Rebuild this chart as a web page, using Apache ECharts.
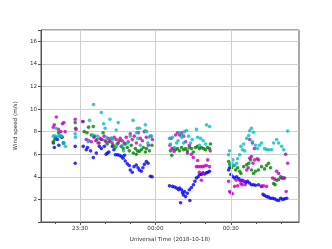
<!DOCTYPE html>
<html><head><meta charset="utf-8">
<script src="https://cdn.jsdelivr.net/npm/echarts@6/dist/echarts.min.js"></script>
<style>html,body{margin:0;padding:0;background:#fff}#c{width:332px;height:249px}</style>
</head><body><div id="c"></div>
<script>
// x = minutes relative to 2018-10-18 00:00 UT, y = wind speed (m/s)
const majorTicks = [-30, 0, 30];
const majorLabels = ['23:30', '00:00', '00:30'];
const minorTicks = [-40, -20, -10, 10, 20, 40, 50];
const yTicks = [2, 4, 6, 8, 10, 12, 14, 16];

const blue = [
 [-40.6,7.0],[-40.2,6.6],[-39.8,7.5],[-39.0,7.3],[-38.4,6.8],[-37.8,7.6],[-37.2,7.5],[-36.6,7.0],
 [-31.9,6.7],[-31.9,5.2],
 [-28.7,6.7],[-27.5,6.4],[-27.0,6.6],[-25.8,6.3],[-24.7,5.7],[-23.5,6.1],[-22.3,6.7],[-21.5,6.5],
 [-20.3,6.7],[-19.6,6.0],[-19.1,6.1],[-18.5,6.2],[-17.1,6.7],[-16.5,6.4],[-15.9,5.95],[-15.1,5.95],
 [-14.3,5.9],[-13.5,5.8],[-12.9,5.65],[-12.3,5.9],[-12.0,5.4],[-11.2,5.15],[-10.4,5.0],[-10.0,4.6],
 [-9.2,4.4],[-8.5,4.9],[-7.6,5.05],[-6.9,4.8],[-6.4,4.6],[-5.6,4.5],[-5.0,4.8],[-4.4,5.1],
 [-3.6,5.35],[-2.9,5.2],[-2.0,4.05],[-1.3,4.0],
 [5.6,3.2],[6.8,3.15],[7.6,3.1],[8.4,3.0],[9.2,2.85],[9.6,3.0],[10.0,1.7],[10.4,2.85],[10.8,2.6],
 [11.1,2.4],[11.6,2.7],[12.0,2.25],[12.7,2.55],[13.5,2.85],[13.7,1.9],[14.3,3.06],[15.1,3.3],
 [15.7,3.6],[16.3,3.9],[17.0,4.0],[17.6,4.2],[18.3,4.2],[18.9,4.35],[19.5,4.25],[20.3,4.35],
 [20.9,4.4],[21.5,4.5],
 [29.1,4.6],[29.5,4.8],[30.0,4.2],[30.8,4.0],[31.5,3.9],[32.3,4.0],[33.1,3.85],[33.8,3.7],
 [34.5,3.7],[35.3,3.6],[36.0,3.5],[36.6,3.6],[37.4,3.45],[38.2,3.3],[39.0,3.3],[39.8,3.25],
 [41.0,3.3],[42.2,3.15],[42.8,2.45],[43.4,2.35],[44.2,2.25],[45.0,2.2],[45.8,2.1],[46.6,2.1],
 [47.4,2.05],[48.2,1.95],[49.0,1.9],[49.8,2.1],[50.6,2.0],[51.4,2.05],[52.2,2.1]
];
const green = [
 [-40.6,7.1],[-40.0,7.3],[-38.5,7.9],[-37.2,7.5],[-36.5,7.0],
 [-31.9,8.8],[-31.7,8.3],
 [-28.9,8.9],[-28.3,8.0],[-27.2,7.9],[-26.6,8.4],[-25.5,7.7],[-24.7,8.45],[-24.2,7.6],[-23.3,7.3],
 [-22.4,7.0],[-21.6,7.3],[-20.8,7.9],[-20.0,7.2],[-19.2,6.9],[-18.4,7.1],[-17.6,7.4],[-16.8,6.8],
 [-16.0,6.6],[-15.2,6.9],[-14.4,7.2],[-13.6,6.7],[-12.8,6.5],[-12.0,6.9],[-11.2,6.6],[-10.4,6.3],
 [-9.6,6.8],[-8.8,6.1],[-8.0,6.5],[-7.6,6.0],[-7.2,6.3],[-6.4,6.25],[-5.6,6.4],[-4.8,6.6],
 [-4.0,6.2],[-3.6,6.5],[-2.4,6.3],[-1.4,6.8],
 [6.0,6.3],[6.5,5.9],[7.2,6.5],[8.0,6.4],[8.8,6.5],[9.6,6.3],[10.4,6.6],[11.2,6.4],[12.0,6.5],
 [12.7,6.3],[13.5,6.6],[14.3,6.5],[15.1,6.2],[15.9,6.6],[16.7,6.7],[17.5,6.5],[18.3,6.6],
 [19.1,6.5],[19.9,6.4],[20.7,6.6],[21.5,6.5],[21.9,6.9],
 [29.1,5.36],[29.6,5.1],[30.3,4.8],[31.2,5.0],[31.9,4.6],[32.7,4.8],[33.5,4.5],[34.0,4.3],
 [35.1,4.9],[36.3,5.07],[37.1,5.2],[37.9,5.5],[38.2,4.6],[39.0,4.3],[39.8,4.5],[41.0,4.6],
 [42.2,4.9],[43.4,4.7],[44.2,5.0],[45.0,5.2],[45.8,4.8],[47.0,3.4],[47.6,3.3],[48.2,3.7],
 [49.0,3.75],[49.8,4.0],[50.6,3.9],[51.4,3.9]
];
const magenta = [
 [-40.6,8.4],[-40.2,8.6],[-39.4,9.3],[-38.6,8.2],[-37.6,8.0],[-37.0,8.7],[-36.4,8.8],[-35.9,8.0],
 [-31.9,9.1],[-31.6,8.2],
 [-28.8,8.9],[-27.5,7.3],[-26.5,7.2],[-25.5,7.1],[-24.5,7.5],[-23.7,7.2],[-22.8,7.0],[-22.0,7.4],
 [-21.2,7.3],[-20.4,7.6],[-19.6,7.1],[-18.8,7.4],[-18.0,7.2],[-17.2,7.0],[-16.4,7.5],[-15.6,7.3],
 [-14.8,7.0],[-14.0,7.4],[-13.2,7.2],[-12.4,7.0],[-11.6,7.5],[-10.8,7.1],[-10.0,7.8],[-9.2,7.3],
 [-8.4,7.6],[-7.6,7.0],[-6.8,7.9],[-6.0,7.4],[-5.2,7.2],[-4.4,8.0],[-3.6,7.5],[-2.8,6.8],
 [-2.0,7.6],[-1.2,7.3],
 [5.8,6.8],[6.2,7.4],[6.6,6.5],[7.4,6.25],[8.0,7.7],[8.8,7.9],[9.6,7.7],[10.4,7.9],[11.2,7.6],
 [12.0,7.1],[12.7,6.1],[13.5,6.8],[14.3,6.0],[15.1,5.7],[16.3,4.9],[16.8,5.45],[17.1,4.9],
 [17.5,4.4],[18.0,4.9],[18.3,3.7],[18.7,4.9],[19.1,4.3],[19.5,4.95],[20.3,5.0],[20.8,5.5],
 [21.5,4.9],[21.8,6.3],
 [29.1,3.6],[29.5,2.7],[30.0,2.6],[30.6,2.5],[31.5,3.15],[32.1,3.7],[32.7,3.2],[33.5,3.7],
 [34.0,3.4],[34.5,3.3],[35.1,3.6],[35.7,3.3],[36.3,4.6],[36.9,4.8],[37.5,5.65],[38.2,5.8],
 [38.8,5.2],[39.5,5.5],[40.5,5.6],[41.0,5.5],[37.5,7.3],[38.6,7.0],[39.4,6.5],[42.2,3.15],
 [43.0,3.2],[44.2,3.15],[46.6,3.9],[47.4,3.8],[48.2,4.5],[49.0,4.3],[50.2,3.9],[51.0,3.9],
 [51.8,6.0],[52.6,5.2],[52.0,2.7]
];
const cyan = [
 [-40.6,7.6],[-40.0,7.6],[-39.5,8.3],[-38.8,7.6],[-38.0,7.6],[-37.2,7.6],[-36.5,7.0],[-35.8,6.7],
 [-31.9,7.8],[-31.8,7.5],
 [-26.2,9.0],[-24.6,10.4],[-21.5,9.7],[-20.6,8.7],[-18.1,9.1],[-14.8,8.8],[-8.9,9.0],[-4.0,8.6],
 [-20.0,8.3],[-26.8,7.1],[-25.0,7.7],[-23.0,7.6],[-19.5,7.5],[-17.0,7.3],[-15.6,8.15],[-13.0,6.8],
 [-12.7,6.3],[-11.0,7.0],[-10.0,7.6],[-7.2,8.3],[-6.3,8.3],[-7.5,7.9],[-7.0,7.4],[-6.0,6.8],
 [-4.0,8.07],[-3.5,8.0],[-3.0,7.0],[-2.6,7.5],[-1.5,7.6],[-15.5,6.7],[-17.6,7.4],
 [5.6,7.4],[6.0,6.9],[6.8,7.5],[7.6,6.6],[8.4,7.0],[9.0,7.2],[9.6,7.9],[10.4,7.5],[11.2,7.0],
 [11.6,8.0],[12.4,8.1],[13.2,7.6],[14.0,7.0],[14.6,7.3],[16.3,8.2],[16.8,7.5],[17.5,6.8],
 [18.0,7.4],[19.0,7.2],[20.3,8.6],[21.5,8.45],[20.0,6.9],[10.8,7.7],
 [29.1,5.95],[29.5,6.3],[30.3,5.2],[30.8,5.5],[31.5,5.0],[32.3,5.2],[32.7,5.6],[33.5,5.95],
 [34.0,6.7],[34.6,6.4],[35.1,6.9],[35.5,6.3],[36.3,7.4],[37.1,7.65],[37.5,8.07],[38.2,8.3],
 [38.6,7.1],[39.0,7.95],[39.8,6.8],[40.6,6.5],[41.4,6.8],[42.2,7.0],[43.4,6.5],[44.2,6.4],
 [45.0,6.4],[46.2,6.4],[47.0,7.0],[48.2,7.3],[49.0,7.0],[50.2,6.7],[51.0,6.4],[52.6,8.05]
];

const chart = echarts.init(document.getElementById('c'), null, {renderer: 'canvas'});
const font = 'DejaVu Sans';
function sc(data, color) {
  return {type: 'scatter', data: data, symbolSize: 3.6, itemStyle: {color: color}, silent: true, z: 3};
}
chart.setOption({
  animation: false,
  grid: {left: 41, right: 33, top: 30, bottom: 27, show: true, borderColor: '#555', borderWidth: 1},
  xAxis: [{
    type: 'value', min: -45.5, max: 57.1,
    name: 'Universal Time (2018-10-18)', nameLocation: 'middle', nameGap: 12,
    nameTextStyle: {fontFamily: font, fontSize: 5.6, color: '#333'},
    axisLine: {show: true, onZero: false, lineStyle: {color: '#555'}},
    axisTick: {show: true, customValues: majorTicks, length: 3, lineStyle: {color: '#555'}},
    axisLabel: {customValues: majorTicks, fontFamily: font, fontSize: 5.6, color: '#333', margin: 4,
      formatter: function (v) { const i = majorTicks.indexOf(v); return i >= 0 ? majorLabels[i] : ''; }},
    splitLine: {show: false}
  }, {
    type: 'value', min: -45.5, max: 57.1, position: 'bottom', gridIndex: 0,
    axisLine: {show: false, onZero: false},
    axisTick: {show: true, customValues: minorTicks, length: 2, lineStyle: {color: '#555'}},
    axisLabel: {show: false},
    splitLine: {show: false}
  }],
  yAxis: {
    type: 'value', min: 0, max: 17, interval: 2,
    name: 'Wind speed (m/s)', nameLocation: 'middle', nameGap: 12,
    nameTextStyle: {fontFamily: font, fontSize: 5.6, color: '#333'},
    axisLine: {show: true, onZero: false, lineStyle: {color: '#555'}},
    axisTick: {show: true, length: 3, lineStyle: {color: '#555'}},
    axisLabel: {fontFamily: font, fontSize: 5.6, color: '#333', margin: 4,
      formatter: function (v) { return yTicks.indexOf(v) >= 0 ? String(v) : ''; }},
    splitLine: {show: true, lineStyle: {color: '#d0d0d0', width: 1}}
  },
  series: [
    {type: 'scatter', data: [], silent: true, z: 1,
     markLine: {silent: true, symbol: 'none', label: {show: false}, animation: false,
       lineStyle: {color: '#d0d0d0', type: 'solid', width: 1},
       data: majorTicks.map(function (v) { return {xAxis: v}; })}},
    sc(blue, '#0000ff'), sc(green, '#008000'), sc(magenta, '#bf00bf'), sc(cyan, '#00bfbf')
  ]
});
</script></body></html>
